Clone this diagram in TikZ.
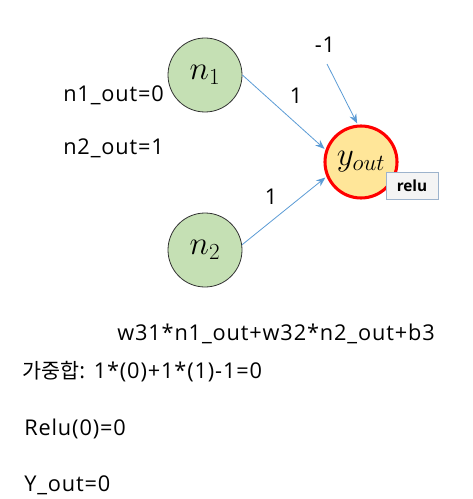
\documentclass[tikz,border=0pt]{standalone}
\usepackage{fontspec}
\setmainfont[LetterSpace=4]{Open Sans}
\newfontfamily\kr{Noto Sans CJK KR}
\newfontfamily\relufont{Open Sans}
\usetikzlibrary{arrows.meta}
\definecolor{ngreen}{HTML}{C5E0B4}
\definecolor{nyellow}{HTML}{FFE699}
\definecolor{nred}{HTML}{FF0000}
\definecolor{abl}{HTML}{5B9BD5}
\definecolor{rbord}{HTML}{9DB3CC}
\definecolor{rfill}{HTML}{F4F4F4}
\begin{document}
\begin{tikzpicture}[x=0.75pt,y=-0.75pt,
  neuron/.style={circle,draw=black!80,line width=0.6pt,fill=ngreen,minimum size=55.5pt,inner sep=0pt,font=\fontsize{23}{23}\selectfont},
  outn/.style={circle,draw=nred,line width=2.3pt,fill=nyellow,minimum size=54pt,inner sep=0pt,font=\fontsize{24}{24}\selectfont},
  conn/.style={draw=abl,line width=0.6pt,-{Stealth[length=7pt,width=5.5pt]},shorten >=1pt},
  txt/.style={anchor=west,inner sep=0pt,font=\fontsize{16.3}{18}\selectfont},
  wlab/.style={inner sep=0pt,font=\fontsize{16.3}{18}\selectfont},
  relubox/.style={draw=rbord,fill=rfill,line width=0.7pt,minimum width=39pt,minimum height=20pt,inner sep=0pt,font=\fontsize{11.5}{12}\relufont\bfseries}]
\useasboundingbox (0,0) rectangle (473,499);
\node[neuron] (n1) at (205,75) {$n_1$};
\node[neuron] (n2) at (205,250) {$n_2$};
\node[outn] (y) at (361,162) {$y_{out}$};
\node[relubox] (relu) at (412,186) {relu};
\coordinate (b) at (327,64);
\node[wlab] (bl) at (325,45) {-1};
\draw[conn] (n1.east) -- (y.161);
\draw[conn] (n2.8) -- (y.203);
\draw[conn] (b) -- (y.95);
\node[wlab] (w1) at (296,96) {1};
\node[wlab] (w2) at (271,197) {1};
\node[txt] (o1) at (63,95) {n1\_out=0};
\node[txt] (o2) at (63,148) {n2\_out=1};
\node[txt] (f) at (117,334) {w31*n1\_out+w32*n2\_out+b3};
\node[txt] (s) at (22,372) {{\kr\fontsize{15.5}{18}\selectfont 가중합}: 1*(0)+1*(1)-1=0};
\node[txt] (r) at (24,429) {Relu(0)=0};
\node[txt] (yo) at (24,485) {Y\_out=0};
\end{tikzpicture}
\end{document}
